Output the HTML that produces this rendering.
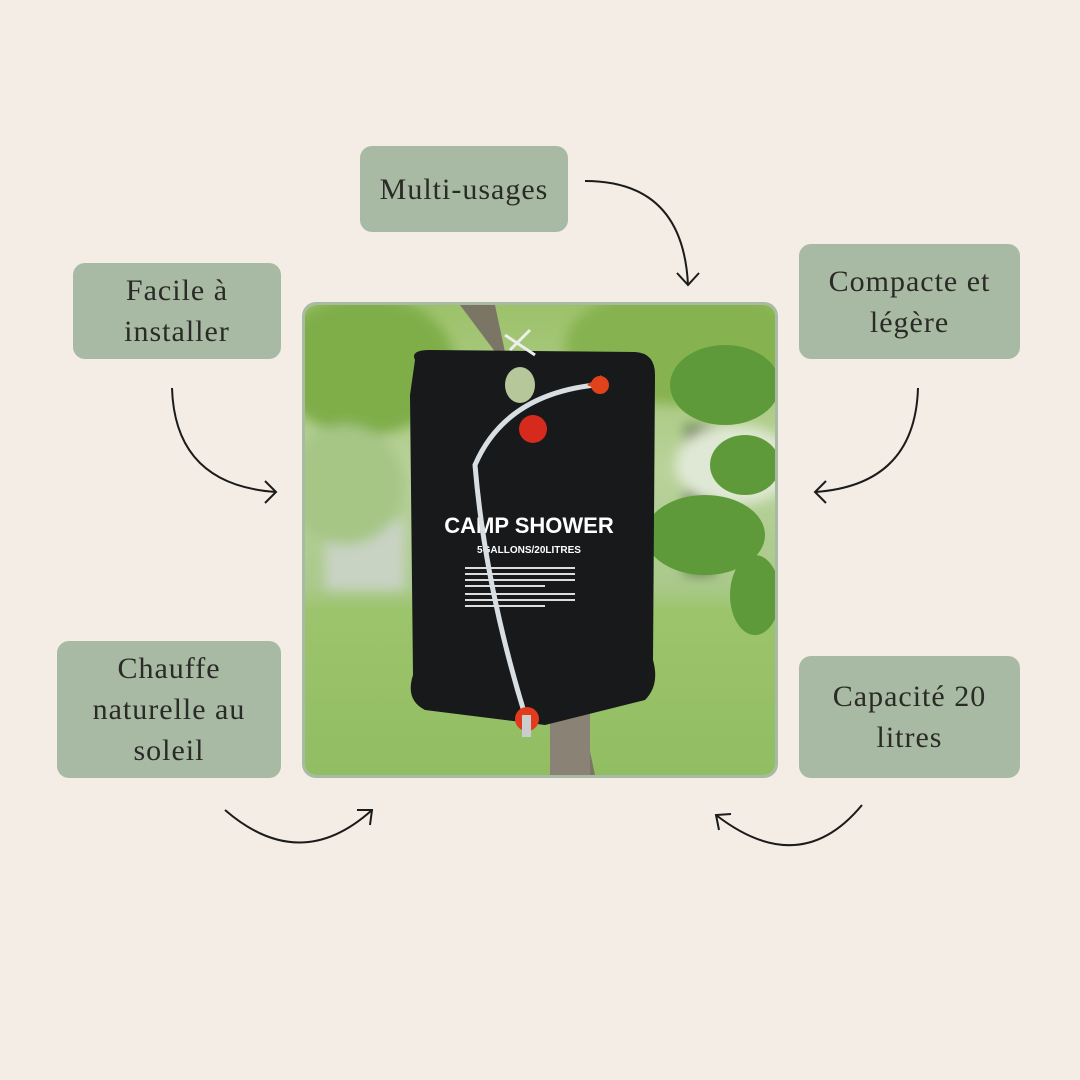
<!DOCTYPE html>
<html><head><meta charset="utf-8"><style>
html,body{margin:0;padding:0;}
body{width:1080px;height:1080px;background:#f4ede5;position:relative;overflow:hidden;font-family:"Liberation Serif",serif;}
.b{position:absolute;background:#a8baa3;border-radius:12px;color:#2a2a26;font-size:30px;letter-spacing:1px;line-height:41px;text-align:center;display:flex;align-items:center;justify-content:center;}
.ph{position:absolute;left:302px;top:302px;width:470px;height:470px;border:3px solid #a8baa3;border-radius:14px;overflow:hidden;}
</style></head><body>
<div class="b" style="left:360px;top:146px;width:208px;height:86px;">Multi-usages</div>
<div class="b" style="left:73px;top:263px;width:208px;height:96px;">Facile à<br>installer</div>
<div class="b" style="left:799px;top:244px;width:221px;height:115px;">Compacte et<br>légère</div>
<div class="b" style="left:57px;top:641px;width:224px;height:137px;">Chauffe<br>naturelle au<br>soleil</div>
<div class="b" style="left:799px;top:656px;width:221px;height:122px;">Capacité 20<br>litres</div>

<div class="ph">
<svg width="470" height="470" viewBox="0 0 470 470">
<defs>
<linearGradient id="g" x1="0" y1="0" x2="0" y2="1">
<stop offset="0" stop-color="#9cc26a"/><stop offset="0.35" stop-color="#b9d29a"/><stop offset="0.6" stop-color="#a9c98a"/><stop offset="0.65" stop-color="#9cc46c"/><stop offset="1" stop-color="#92bd62"/>
</linearGradient>
<filter id="bl"><feGaussianBlur stdDeviation="6"/></filter>
</defs>
<rect width="470" height="470" fill="url(#g)"/>
<g filter="url(#bl)">
<ellipse cx="60" cy="60" rx="90" ry="70" fill="#7fae4a"/>
<ellipse cx="380" cy="40" rx="120" ry="60" fill="#86b24f"/>
<rect x="20" y="215" width="80" height="70" fill="#c9d3c4"/>
<ellipse cx="40" cy="180" rx="60" ry="60" fill="#a6c686"/>
<rect x="380" y="120" width="30" height="150" fill="#6a7a52"/>
<ellipse cx="430" cy="160" rx="60" ry="40" fill="#dfe8d4"/>
</g>
<polygon points="155,0 190,0 290,470 250,470 215,80" fill="#7b7566"/>
<rect x="245" y="380" width="40" height="90" fill="#8a8275"/>
<g fill="#5f9a3a">
<ellipse cx="420" cy="80" rx="55" ry="40"/><ellipse cx="440" cy="160" rx="35" ry="30"/>
<ellipse cx="400" cy="230" rx="60" ry="40"/><ellipse cx="450" cy="290" rx="25" ry="40"/>
</g>
<path d="M110 55 Q105 45 125 45 L330 47 Q350 48 350 70 L348 355 Q355 380 340 395 L240 420 L120 405 Q100 395 108 370 L105 90 Z" fill="#17191b"/>
<ellipse cx="215" cy="80" rx="15" ry="18" fill="#b6c79a"/>
<text x="224" y="228" fill="#fff" font-family="Liberation Sans,sans-serif" font-weight="bold" font-size="22" text-anchor="middle">CAMP SHOWER</text>
<text x="224" y="248" fill="#fff" font-family="Liberation Sans,sans-serif" font-weight="bold" font-size="10" text-anchor="middle">5GALLONS/20LITRES</text>
<g fill="#ddd"><rect x="160" y="262" width="110" height="2"/><rect x="160" y="268" width="110" height="2"/><rect x="160" y="274" width="110" height="2"/><rect x="160" y="280" width="80" height="2"/><rect x="160" y="288" width="110" height="2"/><rect x="160" y="294" width="110" height="2"/><rect x="160" y="300" width="80" height="2"/></g>
<path d="M290 80 Q200 90 170 160 Q180 280 220 410" stroke="#d8dee2" stroke-width="5" fill="none"/>
<circle cx="228" cy="124" r="14" fill="#d62b1c"/>
<path d="M282 80 L296 70 L300 88 Z" fill="#e0431b"/><circle cx="295" cy="80" r="9" fill="#e0431b"/>
<circle cx="222" cy="414" r="12" fill="#e23a1c"/><rect x="217" y="410" width="9" height="22" fill="#c9cdd0"/>
<path d="M200 30 L230 50 M205 45 L225 25" stroke="#eee" stroke-width="3"/>
</svg>
</div>

<svg width="1080" height="1080" style="position:absolute;left:0;top:0" fill="none" stroke="#1b1b1b" stroke-width="2">
<path d="M585 181 Q683 181 688 285"/><path d="M677 273 L688 285 L699 273"/>
<path d="M172 388 Q175 485 276 492"/><path d="M265 481 L276 492 L265 503"/>
<path d="M918 388 Q915 485 815 492"/><path d="M826 481 L815 492 L826 503"/>
<path d="M225 810 Q300 875 372 810"/><path d="M357 810 L372 810 L370 825"/>
<path d="M862 805 Q800 880 716 815"/><path d="M731 814 L716 815 L719 830"/>
</svg>
</body></html>
